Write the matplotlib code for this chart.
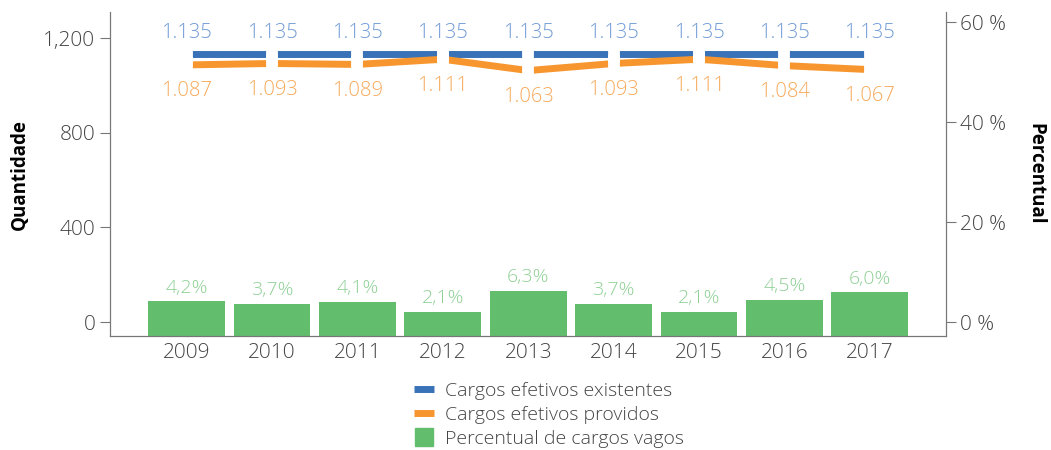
import numpy as np
import matplotlib.pyplot as plt
from matplotlib.lines import Line2D

plt.rcParams['font.family'] = ['Open Sans', 'DejaVu Sans']
plt.rcParams['font.weight'] = 'light'

anos = ['2009', '2010', '2011', '2012', '2013', '2014', '2015', '2016', '2017']
existentes = [1135, 1135, 1135, 1135, 1135, 1135, 1135, 1135, 1135]
providos = [1087, 1093, 1089, 1111, 1063, 1093, 1111, 1084, 1067]
vagos = [4.2, 3.7, 4.1, 2.1, 6.3, 3.7, 2.1, 4.5, 6.0]

azul = '#3a72b8'
laranja = '#f7962e'
verde = '#62bd6d'
cinza = '#444444'

x = np.arange(len(anos))

fig, ax = plt.subplots(figsize=(10.51, 4.5), dpi=100)
fig.subplots_adjust(left=0.1047, right=0.9, top=0.973, bottom=0.2533)
ax2 = ax.twinx()

# barras no eixo da direita
ax2.set_ylim(-2.8, 62)
ax2.bar(x, np.array(vagos) + 2.8, bottom=-2.8, width=0.9, color=verde, zorder=2)
for xi, v in zip(x, vagos):
    ax2.annotate(f'{v:.1f}%'.replace('.', ','), (xi, v), xytext=(0, 3),
                 textcoords='offset points', ha='center', va='bottom',
                 color='#8fd095', fontsize=14)

# linhas no eixo da esquerda
ax.set_zorder(ax2.get_zorder() + 1)
ax.patch.set_visible(False)
ax.plot(x, existentes, color=azul, lw=5, solid_capstyle='butt', zorder=3)
ax.plot(x, providos, color=laranja, lw=5, solid_capstyle='butt', zorder=3)
# cortes brancos nos pontos
ax.plot(x, existentes, ls='none', marker='|', ms=12, mew=8.5, mec='white', zorder=4)
ax.plot(x, providos, ls='none', marker='|', ms=12, mew=8.5, mec='white', zorder=4)
for xi, v in zip(x, existentes):
    ax.annotate(f'{v/1000:.3f}', (xi, v), xytext=(0, 15), textcoords='offset points',
                ha='center', va='center', color='#6f9ad6', fontsize=14.5)
for xi, v in zip(x, providos):
    ax.annotate(f'{v/1000:.3f}', (xi, v), xytext=(0, -19), textcoords='offset points',
                ha='center', va='center', color='#f6a95a', fontsize=14.5)

ax.set_xlim(-0.896, 8.89)
ax.set_ylim(-59, 1310)
ax.set_yticks([0, 400, 800, 1200])
ax.set_yticklabels(['0', '400', '800', '1,200'])
ax2.set_yticks([0, 20, 40, 60])
ax2.set_yticklabels(['0 %', '20 %', '40 %', '60 %'])
ax.set_xticks(x)
ax.set_xticklabels(anos)

for a in (ax, ax2):
    a.spines['top'].set_visible(False)
    for s in ('left', 'right', 'bottom'):
        a.spines[s].set_color('#777777')
    a.tick_params(axis='y', colors='#777777', labelcolor=cinza, labelsize=15, length=7)
    a.tick_params(axis='x', length=0, labelcolor=cinza, labelsize=15, pad=5)

ax.set_ylabel('Quantidade', fontsize=13.5, fontweight='bold', color='black', labelpad=10)
ax2.set_ylabel('Percentual', fontsize=13.5, fontweight='bold', color='black',
               rotation=270, labelpad=28)

handles = [Line2D([], [], color=azul, lw=5, solid_capstyle='butt'),
           Line2D([], [], color=laranja, lw=5, solid_capstyle='butt'),
           Line2D([], [], ls='none', marker='s', ms=12.5, color=verde)]
labels = ['Cargos efetivos existentes', 'Cargos efetivos providos', 'Percentual de cargos vagos']
leg = fig.legend(handles, labels, loc='upper center', bbox_to_anchor=(0.522, 0.19),
                 frameon=False, fontsize=14, handlelength=1.05, handletextpad=0.55,
                 labelspacing=0.3)
for t in leg.get_texts():
    t.set_color(cinza)

plt.savefig('out.png', dpi=100)
